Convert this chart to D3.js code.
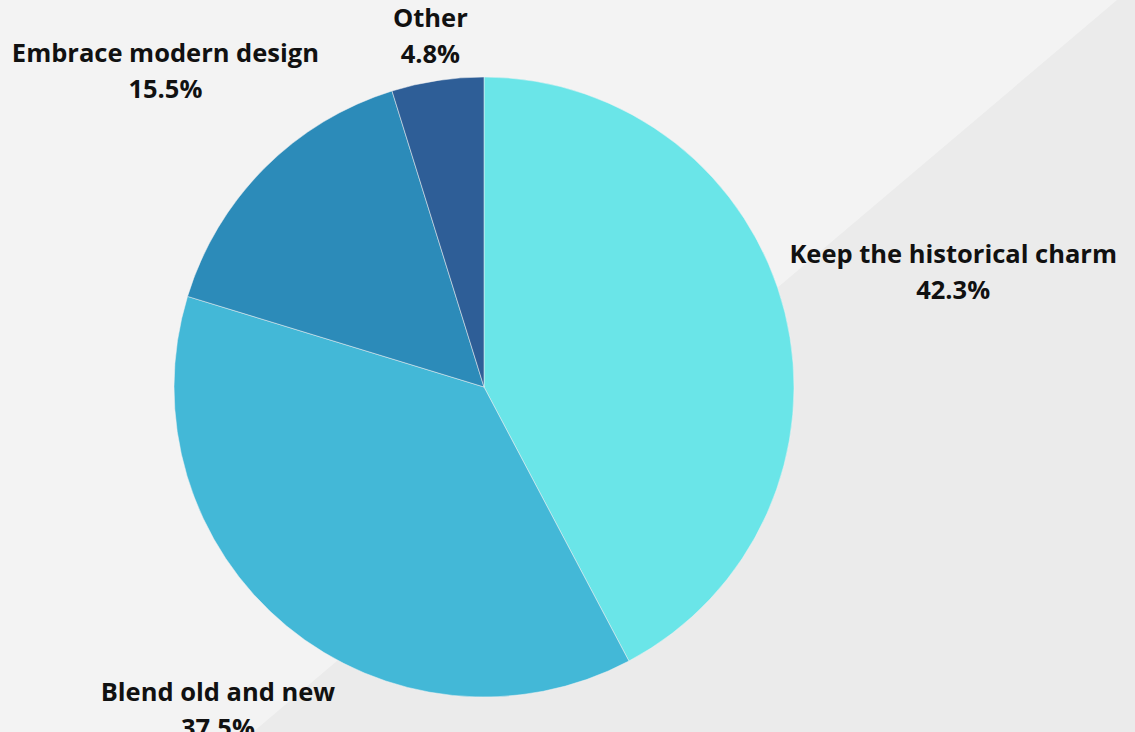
<!DOCTYPE html>
<html>
<head>
<meta charset="utf-8">
<script src="https://cdn.jsdelivr.net/npm/d3@7"></script>
<style>
  html, body { margin: 0; padding: 0; background: #f3f3f3; }
  svg { display: block; }
  .lbl { font-family: "Open Sans", sans-serif; font-weight: 700; font-size: 25.5px; fill: #111; }
</style>
</head>
<body>
<svg width="1135" height="732"></svg>
<script>
// slice data, clockwise from 12 o'clock
var categories = ["Keep the historical charm", "Blend old and new", "Embrace modern design", "Other"];
var shares = [42.3, 37.5, 15.5, 4.8];
var colors = ["#6ae5e8", "#43b8d7", "#2c8bb9", "#2e5e97"];

var svg = d3.select("svg"),
    width = +svg.attr("width"),
    height = +svg.attr("height");

// background diagonal
svg.append("rect").attr("width", width).attr("height", height).attr("fill", "#f3f3f3");
svg.append("polygon")
    .attr("points", [[1117, 0], [width, 0], [width, height], [253, height]].join(" "))
    .attr("fill", "#ebebeb");

var cx = 484, cy = 387, radius = 310;

var pie = d3.pie().sort(null).value(function(d) { return d; });
var arcs = pie(shares);
var arc = d3.arc().innerRadius(0).outerRadius(radius);

var g = svg.append("g").attr("transform", "translate(" + cx + "," + cy + ")");

g.selectAll("path")
    .data(arcs)
    .enter().append("path")
    .attr("d", arc)
    .attr("fill", function(d, i) { return colors[i]; })
    .attr("stroke", "#f3f3f3")
    .attr("stroke-width", 0.5);

// outside labels: push the text box out until its nearest edge sits just past the rim
var gap = 316;
var labels = g.selectAll("g.label")
    .data(arcs)
    .enter().append("g")
    .attr("class", "label");

labels.each(function(d, i) {
    var t = d3.select(this).append("text")
        .attr("class", "lbl")
        .attr("text-anchor", "middle");
    t.append("tspan").attr("x", 0).attr("dy", 0).text(categories[i]);
    t.append("tspan").attr("x", 0).attr("dy", 36).text(shares[i].toFixed(1) + "%");

    var bb = this.getBBox();
    var a = (d.startAngle + d.endAngle) / 2;
    var ux = Math.sin(a), uy = -Math.cos(a);
    var hw = bb.width / 2, hh = bb.height / 2;
    var dist = gap + hw * Math.abs(ux) + hh * Math.abs(uy);
    var ox = bb.x + hw, oy = bb.y + hh;
    d3.select(this).attr("transform",
        "translate(" + (ux * dist - ox) + "," + (uy * dist - oy) + ")");
});
</script>
</body>
</html>
